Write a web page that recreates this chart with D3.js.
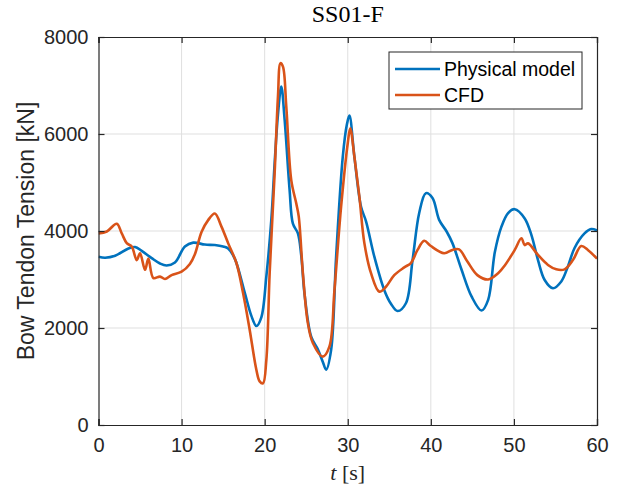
<!DOCTYPE html>
<html>
<head>
<meta charset="utf-8">
<script src="https://cdn.jsdelivr.net/npm/d3@7"></script>
<style>
  body { margin: 0; background: #fff; }
  svg { display: block; }
</style>
</head>
<body>
<div id="chart"></div>
<script>
// series
var physTime  = [0, 0.8, 2, 3.6, 4.4, 5.2, 6.4, 7.4, 8.2, 9.2, 10.4, 11.4, 12.8, 14.0, 15.0, 15.6, 16.4, 17.6, 18.4, 19.0, 19.6, 20.2, 20.8, 21.2, 21.6, 22.0, 22.4, 23.0, 23.4, 24.0, 24.4, 24.8, 25.6, 26.4, 27.0, 27.4, 28.0, 28.6, 29.4, 29.9, 30.2, 30.8, 31.6, 32.2, 33.2, 34.4, 35.2, 36.0, 37.0, 37.8, 38.6, 39.4, 40.2, 41.0, 41.9, 42.6, 43.7, 44.9, 46.1, 46.9, 47.7, 48.5, 49.3, 50.1, 51.3, 52.1, 52.9, 53.7, 54.7, 55.7, 56.5, 57.3, 58.5, 59.3, 60];
var physValue = [3470, 3450, 3490, 3640, 3670, 3590, 3440, 3330, 3290, 3350, 3680, 3760, 3720, 3710, 3680, 3640, 3430, 2730, 2250, 2040, 2220, 3060, 4230, 5400, 6400, 6980, 6300, 4850, 4150, 3950, 3500, 2700, 1820, 1560, 1300, 1140, 1550, 3470, 5530, 6200, 6380, 5530, 4500, 4200, 3470, 2780, 2500, 2350, 2510, 3400, 4370, 4780, 4680, 4230, 3990, 3750, 3200, 2650, 2360, 2580, 3560, 4090, 4370, 4450, 4260, 3920, 3400, 2990, 2820, 2960, 3270, 3650, 3950, 4040, 4010];

var cfdTime  = [0, 1, 2.2, 2.8, 3.4, 4.0, 4.6, 5.0, 5.6, 6.0, 6.6, 7.4, 8.0, 8.8, 10.0, 11.0, 11.6, 12.4, 13.2, 14.0, 14.8, 15.6, 16.6, 17.4, 18.2, 19.0, 19.4, 19.8, 20.2, 20.6, 21.2, 21.6, 21.9, 22.2, 22.6, 23.2, 23.8, 24.1, 24.6, 25.2, 25.8, 27.0, 27.8, 28.4, 29.2, 30.0, 30.3, 30.8, 31.4, 32.0, 32.8, 33.8, 34.6, 35.6, 36.8, 37.6, 38.4, 39.2, 40.0, 41.6, 42.6, 43.4, 44.4, 45.6, 46.9, 48.1, 48.9, 50.1, 50.9, 51.3, 51.7, 52.9, 54.1, 55.1, 56.1, 57.1, 58.1, 58.9, 60];
var cfdValue = [3950, 3990, 4150, 3950, 3750, 3680, 3400, 3540, 3200, 3430, 3030, 3060, 3010, 3090, 3160, 3320, 3520, 3980, 4225, 4360, 4090, 3750, 3340, 2720, 1960, 1140, 900, 860, 1340, 3130, 5190, 6770, 7460, 7390, 6570, 5050, 4570, 4300, 3130, 2100, 1690, 1410, 1620, 2780, 4500, 5810, 6120, 5530, 4710, 3750, 3130, 2750, 2850, 3090, 3250, 3340, 3610, 3800, 3690, 3540, 3610, 3620, 3370, 3090, 3000, 3130, 3290, 3610, 3850, 3710, 3745, 3505, 3300, 3210, 3210, 3400, 3690, 3610, 3430];

var xTicks = [0, 10, 20, 30, 40, 50, 60];
var yTicks = [0, 2000, 4000, 6000, 8000];
var seriesNames = ["Physical model", "CFD"];
var seriesColors = ["#0072BD", "#D95319"];

var W = 624, H = 491;
var margin = {top: 37, right: 27, bottom: 66, left: 98.5};
var width = W - margin.left - margin.right,
    height = H - margin.top - margin.bottom;

var svg = d3.select("#chart").append("svg")
    .attr("width", W)
    .attr("height", H);

var g = svg.append("g")
    .attr("transform", "translate(" + margin.left + "," + margin.top + ")");

var x = d3.scaleLinear().domain([0, 60]).range([0, width]);
var y = d3.scaleLinear().domain([0, 8000]).range([height, 0]);

var axisColor = "#262626";

// grid
g.append("g").selectAll("line.gx")
    .data(xTicks.slice(1, -1))
    .enter().append("line")
    .attr("x1", function(d) { return x(d); })
    .attr("x2", function(d) { return x(d); })
    .attr("y1", 0).attr("y2", height)
    .attr("stroke", "#dfdfdf").attr("stroke-width", 1);

g.append("g").selectAll("line.gy")
    .data(yTicks.slice(1, -1))
    .enter().append("line")
    .attr("y1", function(d) { return y(d); })
    .attr("y2", function(d) { return y(d); })
    .attr("x1", 0).attr("x2", width)
    .attr("stroke", "#dfdfdf").attr("stroke-width", 1);

// lines
var line = d3.line()
    .x(function(d) { return x(d[0]); })
    .y(function(d) { return y(d[1]); })
    .curve(d3.curveCatmullRom.alpha(0.5));

var physData = physTime.map(function(t, i) { return [t, physValue[i]]; });
var cfdData = cfdTime.map(function(t, i) { return [t, cfdValue[i]]; });

svg.append("defs").append("clipPath").attr("id", "plotclip")
    .append("rect").attr("width", width).attr("height", height);

var lines = g.append("g").attr("clip-path", "url(#plotclip)");
lines.append("path").datum(physData)
    .attr("d", line)
    .attr("fill", "none")
    .attr("stroke", seriesColors[0])
    .attr("stroke-width", 2.6)
    .attr("stroke-linejoin", "round");
lines.append("path").datum(cfdData)
    .attr("d", line)
    .attr("fill", "none")
    .attr("stroke", seriesColors[1])
    .attr("stroke-width", 2.6)
    .attr("stroke-linejoin", "round");

// axes
var fontSans = "'Liberation Sans', Arial, Helvetica, sans-serif";
var fontSerif = "'Liberation Serif', 'Times New Roman', serif";

var xAxis = g.append("g")
    .attr("transform", "translate(0," + height + ")")
    .call(d3.axisBottom(x).tickValues(xTicks).tickSize(-6).tickPadding(12).tickFormat(d3.format("d")));
var yAxis = g.append("g")
    .call(d3.axisLeft(y).tickValues(yTicks).tickSize(-6).tickPadding(10).tickFormat(d3.format("d")));
var xTop = g.append("g")
    .call(d3.axisTop(x).tickValues(xTicks).tickSize(-6).tickFormat(""));
var yRight = g.append("g")
    .attr("transform", "translate(" + width + ",0)")
    .call(d3.axisRight(y).tickValues(yTicks).tickSize(-6).tickFormat(""));

[xAxis, yAxis, xTop, yRight].forEach(function(a) {
    a.select(".domain").attr("stroke", axisColor).attr("stroke-width", 1.2);
    a.selectAll(".tick line").attr("stroke", axisColor).attr("stroke-width", 1.2);
    a.selectAll("text")
        .attr("fill", axisColor)
        .style("font-family", fontSans)
        .style("font-size", "20px");
});
xAxis.selectAll("text").attr("dy", "0.75em");

// title
svg.append("text")
    .attr("x", margin.left + width / 2)
    .attr("y", 22)
    .attr("text-anchor", "middle")
    .style("font-family", fontSerif)
    .style("font-size", "24px")
    .attr("fill", "#000")
    .text("SS01-F");

// x label
var xl = svg.append("text")
    .attr("x", margin.left + width / 2)
    .attr("y", 480)
    .attr("text-anchor", "middle")
    .style("font-family", fontSerif)
    .style("font-size", "22px")
    .attr("fill", axisColor);
xl.append("tspan").style("font-style", "italic").text("t");
xl.append("tspan").text(" [s]");

// y label
svg.append("text")
    .attr("transform", "translate(34," + (margin.top + height / 2) + ") rotate(-90)")
    .attr("text-anchor", "middle")
    .style("font-family", fontSans)
    .style("font-size", "23px")
    .attr("fill", axisColor)
    .text("Bow Tendon Tension [kN]");

// legend
var leg = svg.append("g").attr("transform", "translate(389,52)");
leg.append("rect")
    .attr("width", 193).attr("height", 57)
    .attr("fill", "#fff")
    .attr("stroke", axisColor).attr("stroke-width", 1);

seriesNames.forEach(function(name, i) {
    var row = leg.append("g").attr("transform", "translate(0," + (17 + i * 26) + ")");
    row.append("line")
        .attr("x1", 6).attr("x2", 51)
        .attr("stroke", seriesColors[i]).attr("stroke-width", 2.6);
    row.append("text")
        .attr("x", 55).attr("dy", "0.35em")
        .style("font-family", fontSans)
        .style("font-size", "19.5px")
        .attr("fill", "#000")
        .text(name);
});
</script>
</body>
</html>
